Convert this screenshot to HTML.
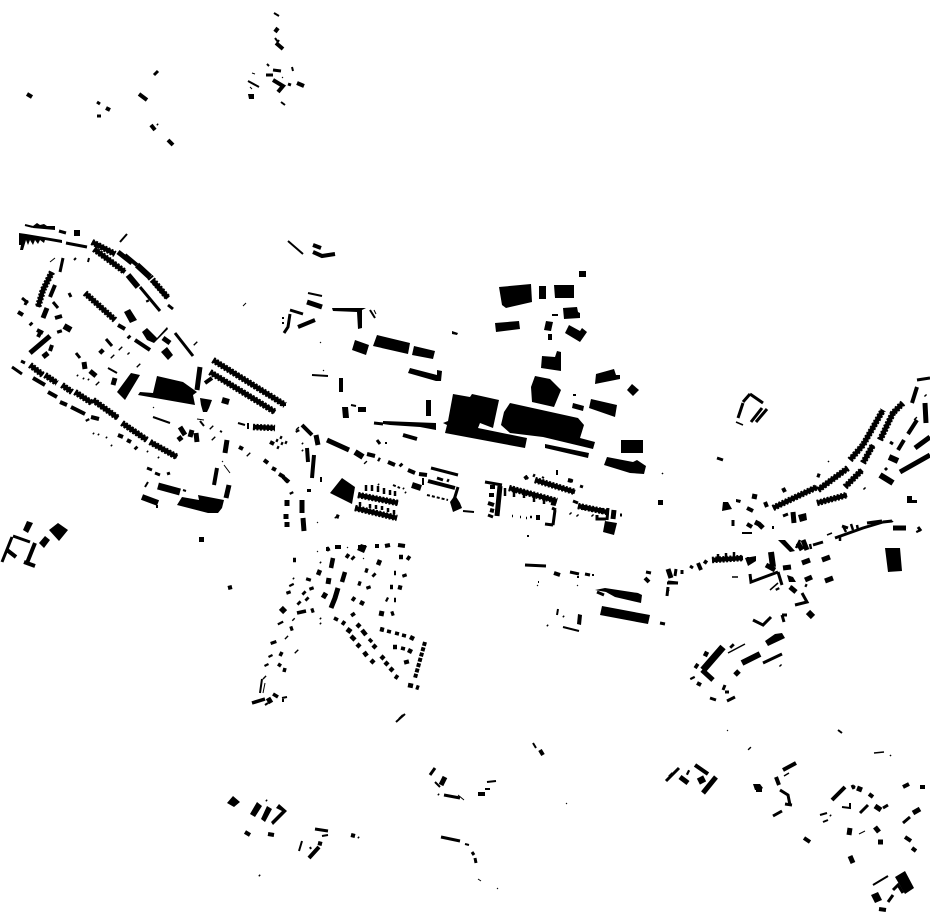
<!DOCTYPE html>
<html><head><meta charset="utf-8"><style>html,body{margin:0;padding:0;background:#fff}svg{display:block}</style></head><body>
<svg width="930" height="924" viewBox="0 0 930 924" xmlns="http://www.w3.org/2000/svg" fill="none" stroke="#000">
<!-- large polygons -->
<path fill="#000" stroke="none" d="M499 287L531 284L532 302L506 308L502 305Z M539 286H546V299H539Z M554 285H574V298H555Z M579 271H586V277H579Z M563 308L577 307L578 312L580 313V318L564 319Z M552 314H558V316H552Z M495 323L519 321L520 329L496 332Z M546 321L553 322L551 331L544 330Z M548 334H552V340H548Z M569 325L580 331L582 328L587 332L580 342L565 333Z M542 356L555 357L557 351L561 352L561 371L541 368Z M596 374L614 369L616 375L620 375L620 379L595 384Z M627 390L632 384L639 390L633 396Z M531 387L535 376L550 379L561 390L554 407L532 402Z M573 394H576V396H573Z M573 403L584 406L583 411L572 408Z M591 399L617 405L615 417L589 408Z M621 440H643V453H621Z M607 457L633 462L637 460L646 466L644 474L630 473L604 465Z M453 394L470 397L472 394L499 400L493 428L480 423L478 428L527 438L525 448L445 433L447 425L443 423L448 421Z M510 403L578 418L584 425L580 438L595 442L593 449L543 437L510 433L501 425L504 412Z M545 444L589 453L588 458L545 448Z M352 350L355 340L369 345L366 355Z M373 346L377 335L410 343L408 354Z M412 355L414 346L435 351L433 359Z M408 373L410 368L437 375L437 370L442 371L441 381L436 381Z M332 308L366 308L362 310L362 328L358 329L357 312L333 311Z M452 331L458 333L457 335L452 334Z M342 407H348L349 418H343Z M358 407H366V412H358Z M426 400H431V416H426Z M383 421L436 423L436 430L420 427L390 425L383 424Z M330 493L342 478L355 487L352 504Z M339 378H343V392H339Z"/>
<!-- west polygons -->
<path fill="#000" stroke="none" d="M33 226L37 223L40 225L44 224L47 226L55 226L55 230L33 228Z M74 230H80V236H74Z M19 233L26 234L62 240L62 243L45 240L44 243L40 240L38 244L35 240L33 245L30 240L28 245L26 240L23 250L20 250L21 245L19 245Z M124 312L130 309L137 320L130 323Z M142 332L147 328L157 338L167 327L168 329L154 343L147 340Z M161 352L167 347L173 355L168 360Z M200 398L212 400L209 408L207 412L203 412L201 405Z M157 376L183 382L197 392L193 395L195 405L138 395L140 392L153 393Z M131 373L140 375L125 400L117 392Z M182 497L199 500L198 495L224 500L222 508L218 513L208 513L177 505Z M23 530L27 521L33 523L28 533Z M49 530L58 523L68 530L59 541Z M39 543L45 536L50 540L44 548Z M199 537H204V542H199Z M248 94H254V99H249Z"/>
<!-- centre/east/south polygons -->
<path fill="#000" stroke="none" d="M450 502L455 495L460 503L462 508L453 512Z M605 521L617 523L614 535L603 532Z M358 545H366L365 550H358Z M357 550L361 544L367 546L364 553Z M723 502L728 502L732 509L722 511Z M736 499L741 500L740 503L736 502Z M885 548H900L902 571L888 572Z M907 496H912V500H917V503H907Z M778 540L785 540L795 551L790 552Z M745 558L756 556L756 561L748 566Z M787 575L793 577L796 582L789 582Z M765 641L775 634L782 633L785 638L768 646Z M753 784L760 784L763 788L760 790H755Z M895 877L905 871L914 888L905 894Z M871 895L878 892L882 900L875 903Z M227 803L233 796L240 802L234 807Z M250 814L257 802L262 806L255 817Z M261 819L267 806L272 809L265 822Z M276 808L279 804L287 811L273 825L271 822L282 811Z M595 590L605 588L638 593L642 595L641 603L615 597L606 592Z M602 606L650 615L648 624L600 615Z M578 614L582 615L581 625L577 624Z M658 500H663V505H658Z M798 515L806 513L807 520L800 522Z M536 515H540V520H536Z"/>
<!-- comb rows -->
<path stroke-width="6.5" stroke-dasharray="2 1.5" d="M30 365L43 375M45 375L57 383M62 385L72 392M75 392L92 403M93 400L118 418M122 423L147 440M150 442L177 457M92 242L115 254M94 249L125 272M85 293L115 320M213 360L285 405M210 372L275 412M358 495L398 503M355 508L397 518M509 488L557 501M535 480L575 492M578 506L607 512M712 560L743 558M773 508L817 487M818 490L848 468M850 460L863 445L883 410M817 503L847 495M845 487L862 470M863 463L873 445M880 440L893 413L903 403M52 272L43 290L38 307M150 277L168 298M253 427L275 428"/>
<path stroke-width="4.5" d="M30 365L43 375M45 375L57 383M62 385L72 392M75 392L92 403M93 400L118 418M122 423L147 440M150 442L177 457M92 242L115 254M94 249L125 272M85 293L115 320M213 360L285 405M210 372L275 412M358 495L398 503M355 508L397 518M509 488L557 501M535 480L575 492M578 506L607 512M712 560L743 558M773 508L817 487M818 490L848 468M850 460L863 445L883 410M817 503L847 495M845 487L862 470M863 463L873 445M880 440L893 413L903 403M52 272L43 290L38 307M253 427L275 428"/>
<!-- NW / top -->
<path stroke-width="1" d="M267 64L269 66M252 73L255 74M250 87L252 89M282 77L283 78M374 310L376 314M224 465L230 473M222 461L223 462M50 262L55 258M153 407L154 408M197 419L204 420M323 370L324 371M320 342L321 343M317 522L318 523M317 551L318 552M347 547L348 548M363 558L364 559M566 803L567 804M727 730L728 731M497 888L498 889M478 879L481 881M859 834L865 831M458 795L464 800M265 683L263 693M537 585L538 586M577 585L578 586M243 306L246 303"/>
<path stroke-width="2" d="M274 13L279 16M275 38L278 42M292 67L293 71M276 45L279 40M248 81L259 87M281 102L285 105M157 124L158 125M267 64L269 66M25 225L33 227M288 241L303 254M120 242L127 234M74 260L76 258M89 258L88 262M308 293L322 296M370 310L375 318M283 317L283 319M283 322L283 324M280 405L286 405M351 405L356 406M312 375L328 376M385 443L387 443M153 417L170 423M200 421L204 426M238 423L245 425M248 423L248 429M220 431L222 432M77 375L78 376M83 378L84 379M88 379L89 380M108 368L117 373M145 487L148 482M183 490L186 491M157 505L157 508M93 433L94 434M98 434L99 435M106 437L107 438M111 445L112 446M147 451L148 452M158 457L159 458M302 443L303 444M302 450L303 451M321 477L321 482M378 484L379 485M423 478L423 485M463 511L474 512M528 535L528 537M557 470L557 475M542 477L544 478M593 574L593 576M578 576L578 578M538 582L539 582"/>
<path stroke-width="3" d="M154 75L158 71M97 102L100 104M97 116L101 116M266 75L273 75M273 70L281 71M288 84L291 85M59 231L66 233M66 243L87 247M63 258L60 272M27 300L25 305M22 298L28 303M53 302L58 308M69 293L71 297M12 367L22 374M21 361L25 363M140 287L160 311M168 305L173 309M175 333L193 356M147 300L148 302M106 339L112 346M128 353L129 354M76 353L80 358M147 468L152 470M155 473L160 475M167 474L170 473M290 310L303 314M290 314L288 327L284 333M374 423L383 424M377 440L380 444M327 550L330 549M431 468L458 475M437 478L443 480M447 480L449 481M458 487L454 500M485 482L502 485M488 515L493 517M555 510L553 525M545 524L553 525M552 508L556 510M525 476L528 479M533 475L535 476M568 480L573 481M580 486L583 487M573 501L578 503M570 513L571 514M577 515L578 516M592 515L593 516M608 508L607 520M597 515V519H606M620 515H622M276 440L278 441M280 437L282 438M281 443L283 444M277 447L279 448M285 442L287 443"/>
<path stroke-width="4" d="M92 242L115 254M27 94L32 97M139 94L147 100M106 108L110 110M151 125L155 130M168 140L173 145M297 83L304 86M273 80L283 86L278 92M276 43L283 49M275 32L278 28M313 245L321 248M313 252L322 256L335 254M125 255L137 265M55 285L50 297M18 312L23 315M55 318L62 316M30 323L32 325M37 330L43 333M40 333L38 337M52 345L50 351M33 378L45 385M48 392L57 397M60 402L67 405M71 407L85 414M87 419L88 421M91 417L99 419M118 435L123 437M127 440L131 442M135 447L137 449M118 325L125 329M128 336L130 338M135 340L150 350M205 383L212 378M239 447L243 449M264 460L268 463M272 468L276 470M279 474L284 477M285 479L288 482M297 430L298 432M270 442L274 444M217 468L214 485M298 327L315 320M403 435L417 439M302 425L312 435M297 428L298 429M307 448L308 462M314 455L312 478M283 477L289 482M291 492L292 494M309 489L309 492"/>
<path stroke-width="5" d="M47 308L43 318M59 330L60 333M50 336L30 353M43 357L48 353M118 252L132 263M152 280L168 298M120 348L121 349M100 350L103 353M112 356L113 357M84 362L85 369M90 371L96 376M97 383L98 384M115 378L113 385M138 365L139 366M180 427L185 435M178 440L182 437M192 430L190 437M196 433L197 442M227 440L225 453M229 485L226 498M248 454L249 455M163 338L170 343M195 343L196 344M200 367L197 390M211 427L212 428M213 438L214 439M287 500L287 506M286 514L286 519M287 522L287 527M302 500L302 513M303 518L304 531M316 435L318 445M336 516L337 517M307 302L322 307M327 440L349 450"/>
<path stroke-width="6" d="M128 275L138 287M64 326L71 330M222 400L229 402M142 497L158 503M355 452L363 457M412 485L421 488M137 265L150 277"/>
<path stroke-width="7" d="M158 486L180 492"/>
<!-- SW cluster -->
<path stroke-width="3" d="M13 536L30 542M12 537L2 562"/>
<path stroke-width="4" d="M7 550L16 557M35 543L27 563M24 562L35 566M228 588L232 587"/>
<!-- centre small rows -->
<path stroke-width="4" d="M367 454L375 456M378 459L380 460M388 462L395 465M400 464L402 466M408 470L415 473M419 474L427 475M428 481L455 488M365 462L366 463M326 549L327 549M335 547L341 547M375 546L379 546M385 546L390 545M398 545L405 546M336 516L339 517"/>
<path stroke-width="2.5" d="M366 485V491M372 485V491M378 486V492M384 488V494M390 490V495M395 491V496M360 502V506M370 504V508M376 505V509M382 506V510M388 508V512M394 510V514M505 488V496M514 491V497M524 492V498M534 496V502M544 498V504M584 505V510M592 507V512M602 508V514M512 516H513M520 517H521M526 518H527M530 517H532"/>
<path stroke-width="2" d="M393 485L400 488M403 488L404 489M405 492L406 493M427 495L448 500" stroke-dasharray="3 2"/>
<path stroke-width="5" d="M500 486L497 516"/>
<path stroke-width="4" d="M490 487L495 487M489 495L494 495M488 503L494 505M490 510L494 511M525 476L527 479M568 480L572 481M551 503L556 504"/>
<path stroke-width="5" d="M614 510L613 519"/>
<!-- east -->
<path stroke-width="1.5" d="M736 422L743 425M827 535L832 533M732 577L738 577M770 590L778 583M828 461L829 462M662 473L663 474M864 488L865 489M728 653L745 644M784 776L789 773M874 753L884 752M890 755L891 756M892 521L893 522"/>
<path stroke-width="3" d="M738 418L743 403M743 402L750 394M750 394L763 403M751 422L762 408M756 422L767 409M717 458L723 460M813 545L823 542M835 538L863 528L883 522M883 522L892 521M917 380L930 378M750 574L751 582L778 572M778 572L782 585M676 569L675 576M690 566L693 568M668 587L667 596M668 582L678 583M682 570L682 574M660 623L665 624M795 605L807 602L802 593M782 615L787 615M782 615L784 622M753 620L763 625L771 617M710 698L716 700M723 690L725 685M725 692L729 692M727 701L735 697M763 663L782 654M780 665L781 666M666 781L679 768M780 790L788 795L790 805M785 804L792 805M773 816L782 811M864 488L865 489M885 468L887 470M890 442L893 444M925 395L926 396M918 527L921 531M842 526L848 528M867 523L882 521M805 585L807 586M733 520V526M783 516L788 514"/>
<path stroke-width="2" d="M742 533L752 533M773 526V529"/>
<path stroke-width="4" d="M747 508L753 511M765 502L767 507M783 488L785 492M817 475L820 476M704 561L707 563M698 563L701 570M912 403L917 387M898 450L904 440M908 434L917 420M915 418L916 419M790 587L792 588M777 588L778 590M697 683L701 685M783 770L796 763M776 777L779 785M695 765L708 774M749 748L750 749M756 790L762 790M747 524L752 527"/>
<path stroke-width="5" d="M752 496L757 497M925 403L926 423M900 472L930 455M915 448L930 437M893 528L906 528M918 530L919 532M803 540L807 550M798 543L802 550M766 565L775 570M783 568L791 567M802 563L810 560M822 560L830 557M790 587L796 592M805 580L812 577M825 581L833 578M668 569L671 578M735 675L739 671M731 645L733 647M704 653L708 655M695 665L698 667M692 677L693 679M702 670L713 680M670 774L671 775M680 777L688 783M687 772L689 773M703 793L716 777M755 522L759 524L763 528M793 512L794 523"/>
<path stroke-width="6" d="M771 552L773 567M889 457L898 461M880 475L893 483M808 612L813 617M742 663L760 654"/>
<path stroke-width="7" d="M703 670L723 647M700 777L703 783"/>
<!-- bottom right -->
<path stroke-width="2" d="M820 815L827 813M830 815L831 816M823 822L828 820M842 807L850 808L850 803M873 885L888 876M838 730L842 733"/>
<path stroke-width="3" d="M852 785L854 789M860 813L868 805M883 808L888 805M903 823L910 817M893 890L898 885L903 893M888 902L893 895"/>
<path stroke-width="4" d="M832 800L845 787M853 786L854 788M869 794L873 797M903 787L909 784M920 787L925 787M905 837L911 841M912 848L916 851M804 838L810 842M879 909L886 910"/>
<path stroke-width="5" d="M857 788L862 790M875 806L881 810M913 813L920 809M850 828L849 835M875 827L879 832M878 842L883 842M850 856L853 863"/>
<!-- east road -->
<path stroke-width="2.5" d="M843 526L846 532M851 524L853 530M857 525L858 530M748 557V562M734 552V558M726 553V560M718 554V560M796 548L800 540M810 544L811 549M840 535V541"/>
<!-- suburb -->
<path stroke-width="4.5" d="M327 549L329 549M346 555L349 557M352 557L354 559M380 560L378 565M399 557L403 557M407 557L410 559M293 560L296 560M333 558L331 568M320 570L318 575M365 570L368 571M373 574L375 576M394 573L396 573M404 574L405 577M345 572L342 582M358 583L361 584M368 586L369 589M390 587L393 587M398 587L402 588M288 591L289 594M311 587L312 590M352 598L355 600M360 602L364 604M386 599L388 600M394 600L396 600M303 592L305 594M306 598L308 600M298 602L300 604M352 613L354 616M342 622L345 624M357 624L360 627M362 630L366 635M351 636L355 640M373 645L376 648M357 644L360 647M364 652L367 656M371 660L374 663M381 656L384 659M385 662L388 665M390 668L393 671M395 676L398 678M391 614L394 613M380 629L384 630M410 637L414 639M393 647L397 647M408 650L412 652M408 685L413 686M416 687L419 688M270 655L271 657M266 664L267 666M264 677L265 678M286 637L287 638M290 629L293 628M311 611L314 610"/>
<path stroke-width="3.5" d="M334 618L338 620M369 639L372 642M387 631L391 632M395 633L399 634M402 635L406 636M401 648L405 649M282 652L280 656M278 664L281 666M285 668L284 672M293 619L294 620M297 613L306 611M273 694L278 697M252 703L265 699"/>
<path stroke-width="5" d="M329 578L328 584M309 578L308 581M291 584L292 586M326 593L323 598M338 588L335 598L331 608M347 629L351 632M382 611L381 616M406 660L407 664M296 651L297 652M268 698L271 703"/>
<path stroke-width="6" d="M281 612L285 608M280 622L281 624M273 641L274 644"/>
<path stroke-width="4" stroke-dasharray="4 1.5" d="M425 642L415 678"/>
<path stroke-width="2" d="M320 562L321 563M293 578L294 579M320 618L321 619M320 623L321 624M262 679L260 693M282 698L287 697M283 699L283 702M265 705L268 703M403 715L399 719M396 722L405 714"/>
<!-- south / small groups -->
<path stroke-width="3" d="M430 775L435 768M444 795L460 798M441 837L460 841M472 852L474 855M475 858L476 863M525 565L546 566M570 572L579 574M585 574L590 575M646 572L651 573M597 592L604 595M667 583L678 583M315 829L328 831"/>
<path stroke-width="2" d="M533 743L536 748M435 782L440 787M438 794L439 795M485 789L490 789M558 609L557 615M563 616L564 617M563 627L579 631M547 625L548 626M668 590L669 591M667 594L668 595M465 844L469 845M487 782L496 781M322 836L328 835M302 841L299 851M310 847L311 849M358 837L359 838M259 875L260 876M266 800L267 801"/>
<path stroke-width="4" d="M540 750L543 755M478 794L485 794M554 573L560 575M645 578L649 582M245 832L250 835M268 834L274 835M318 843L322 844M319 847L309 858M351 835L355 836"/>
<path stroke-width="5" d="M441 785L445 777"/>
</svg>
</body></html>
